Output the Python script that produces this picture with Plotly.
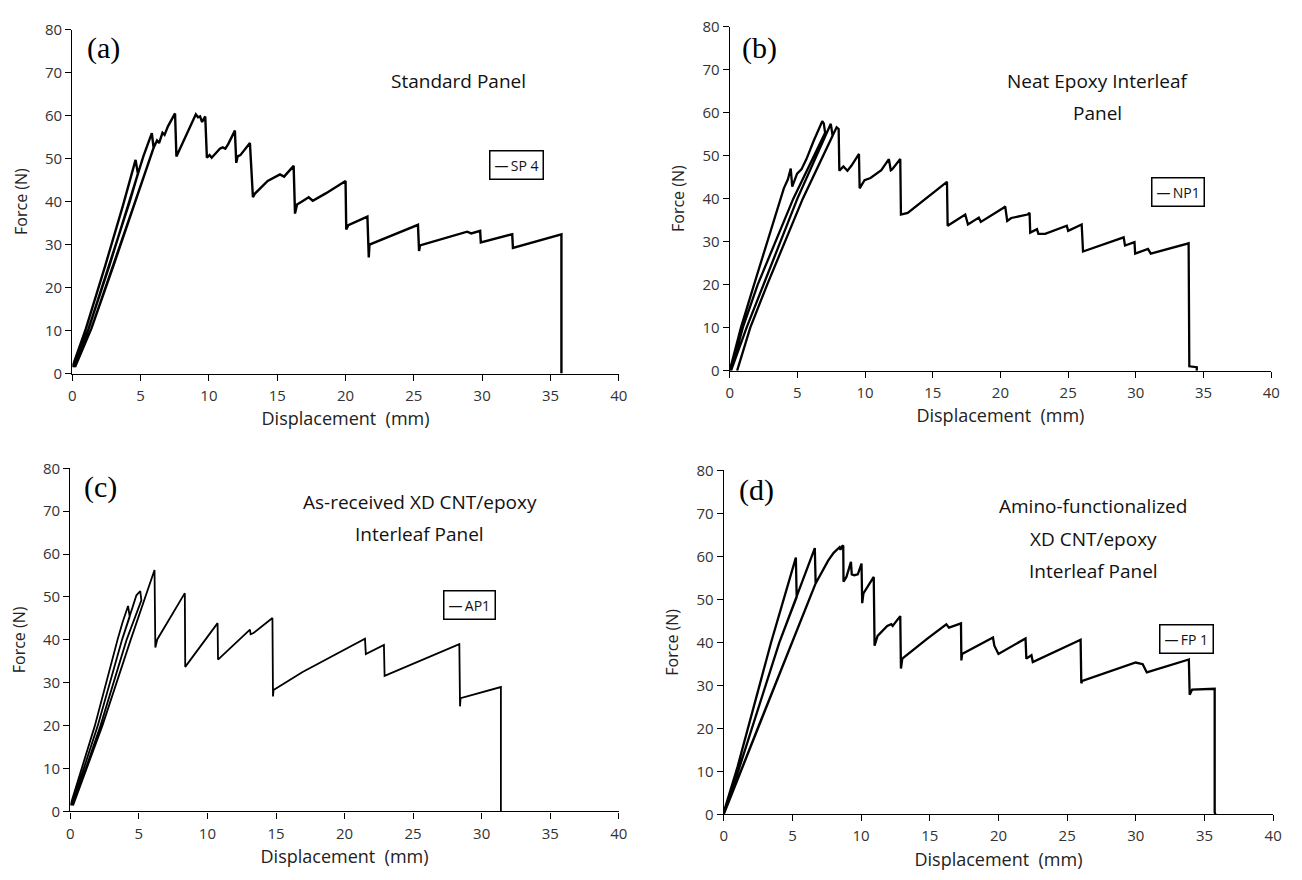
import plotly.graph_objects as go

# ---------------- data ----------------
# (a) Standard Panel, specimen SP 4
sp4_disp = [0, 1.0, 2.4, 3.7, 4.63, 4.8, 4.2, 2.7, 1.2, 0.1, 1.2, 2.7, 4.2, 5.2, 5.82, 5.95,
            4.6, 3.0, 1.4, 0.2, 1.4, 3.0, 4.6, 5.95, 6.2, 6.35, 6.6, 6.75, 7.0, 7.52, 7.62,
            8.3, 9.04, 9.2, 9.35, 9.5, 9.73, 9.85, 10.05, 10.2, 10.8, 11.0, 11.2, 11.4, 11.9,
            12.0, 12.1, 12.3, 13.0, 13.22, 13.35, 14.3, 15.2, 15.5, 16.2, 16.3, 16.45, 16.9,
            17.3, 17.6, 18.55, 20.0, 20.05, 20.2, 21.6, 21.7, 21.75, 25.3, 25.38, 25.45, 28.9,
            29.2, 29.85, 29.9, 30.95, 32.2, 32.25, 35.8, 35.8]
sp4_force = [1.5, 10.5, 25, 39, 49.7, 46.5, 40, 25, 10.5, 1.5, 10.5, 25, 40, 50.5, 55.9, 52.5,
             40, 25, 10.5, 1.5, 10.5, 25, 40, 52.5, 54.2, 53.6, 56, 55.5, 57.5, 60.5, 50.5,
             55, 60.3, 59.6, 59.8, 58.5, 59.8, 50.2, 50.8, 50.2, 52.3, 52.6, 52.3, 53.3, 56.5,
             49, 50.5, 50.8, 53.6, 41, 41.8, 44.8, 46.3, 45.8, 48.3, 37.2, 39.3, 40.2,
             41.0, 40.2, 41.9, 44.8, 33.5, 34.5, 36.5, 27, 30, 34.6, 28.5, 29.8, 33.0,
             32.6, 33.2, 30.5, 31.4, 32.4, 29.2, 32.4, 0]

# (b) Neat Epoxy Interleaf Panel, specimen NP1
np1_disp = [0, 0.83, 1.8, 2.9, 4.0, 4.3, 4.51, 4.62, 4.98, 5.3, 5.67, 6.2, 6.5, 6.84, 6.95, 7.05,
            4.7, 2.07, 0.97, 0.1, 1.25, 2.5, 5.0, 7.47, 7.6, 5.4, 2.77, 1.52, 0.55, 1.52, 2.77,
            5.4, 7.6, 7.9, 8.05, 8.1, 8.4, 8.7, 9.0, 9.55, 9.6, 9.96, 10.4, 10.66, 11.2, 11.76,
            11.9, 12.0, 12.6, 12.65, 13.15, 16.05, 16.1, 17.4, 17.6, 18.4, 18.55, 20.2, 20.35,
            20.5, 20.8, 22.0, 22.15, 22.2, 22.7, 22.8, 23.3, 24.9, 25.0, 26.0, 26.1, 29.1, 29.2,
            29.9, 29.95, 30.9, 31.1, 33.9, 33.95, 34.5, 34.5]
np1_force = [0, 10, 20, 31, 42.4, 44.5, 47.0, 42.8, 45.8, 46.8, 49.2, 53.4, 55.7, 58.0, 57.5, 55.3,
             40, 20, 10, 0, 10, 20, 40, 57.4, 54.6, 40, 20, 10, 0, 10, 20,
             40, 54.6, 56.6, 56.2, 46.5, 47.5, 46.5, 47.7, 50.4, 42.4, 44.3, 44.8, 45.4, 46.6, 49.2,
             46.6, 46.8, 49.2, 36.3, 36.7, 43.9, 33.7, 36.3, 34.0, 35.6, 34.6, 37.8, 38.2,
             34.8, 35.5, 36.3, 36.7, 32.1, 32.9, 31.8, 31.8, 33.7, 32.5, 34.0, 27.7, 31.0, 29.1,
             29.9, 27.2, 28.3, 27.2, 29.6, 1.0, 0.8, 0]

# (c) As-received XD CNT/epoxy Interleaf Panel, specimen AP1
ap1_disp = [0, 1.79, 3.44, 3.8, 4.21, 4.33, 3.77, 2.0, 0.1, 2.0, 3.77, 4.33, 4.82, 5.1, 5.18,
            4.1, 2.2, 0.2, 2.34, 4.4, 5.3, 6.14, 6.2, 6.34, 8.35, 8.38, 10.74, 10.77, 13.1,
            13.15, 13.36, 14.74, 14.78, 14.82, 16.94, 21.49, 21.55, 22.87, 22.92, 28.37, 28.42,
            28.46, 31.4, 31.4]
ap1_force = [1.4, 20, 40, 44, 47.9, 45.4, 40, 20, 1.4, 20, 40, 45.4, 50.4, 51.4, 49.2,
             40, 20, 1.4, 20, 40, 48.5, 56.3, 38.2, 40.1, 50.9, 33.7, 43.9, 35.4, 42.4,
             41.3, 41.6, 45.1, 26.8, 28.3, 32.5, 40.3, 36.7, 38.8, 31.6, 39.0, 24.5,
             26.4, 29.0, 0]

# (d) Amino-functionalized XD CNT/epoxy Interleaf Panel, specimen FP 1
fp1_disp = [0, 1.0, 3.45, 5.25, 5.31, 4.05, 1.1, 0, 1.1, 4.05, 6.63, 6.69, 5.0, 2.6, 1.3, 0,
            1.3, 2.6, 5.0, 6.69, 7.6, 8.0, 8.43, 8.5, 8.6, 8.7, 8.72, 8.93, 9.26, 9.32, 9.5,
            9.76, 10.03, 10.08, 10.17, 10.92, 10.98, 11.2, 11.9, 12.2, 12.3, 12.85, 12.9, 13.0,
            14.8, 16.2, 16.4, 17.27, 17.3, 17.35, 19.6, 19.7, 20.0, 21.97, 22.03, 22.4, 22.5,
            25.98, 26.03, 26.1, 29.99, 30.5, 30.8, 33.86, 33.92, 34.1, 35.74, 35.74, 35.8]
fp1_force = [0.5, 11, 40, 59.7, 50.5, 40, 10.5, 0.3, 10.5, 40, 61.9, 53.7, 40, 21, 10.5, 0,
             10.5, 21, 40, 53.7, 59, 60.8, 62.1, 61.5, 62.3, 62.5, 54.1, 55.2, 58.7, 55.8, 55.6,
             55.8, 58.3, 49.1, 51.4, 55.2, 39.2, 41.5, 43.8, 44.2, 43.8, 46.1, 33.9, 36.2,
             40.8, 44.2, 43.4, 44.4, 35.8, 37.3, 41.1, 39.2, 37.3, 40.9, 36.2, 37.0, 35.4,
             40.6, 30.5, 31.0, 35.3, 34.9, 33.0, 36.0, 27.8, 29.0, 29.2, 0.4, 0]

panel_letters = ["(a)", "(b)", "(c)", "(d)"]
panel_title_lines = [["Standard Panel"],
                     ["Neat Epoxy Interleaf", "Panel"],
                     ["As-received XD CNT/epoxy", "Interleaf Panel"],
                     ["Amino-functionalized", "XD CNT/epoxy", "Interleaf Panel"]]
specimen_names = ["SP 4", "NP1", "AP1", "FP 1"]

x_title = "Displacement\u00a0 (mm)"
y_title = "Force (N)"

# ---------------- layout ----------------
W, H = 1302, 880
# pixel boxes of each plot area: (x0, x1, ytop, ybottom)
boxes = [(69, 621, 19, 371), (733, 1280, 16, 368), (67, 621, 468, 819), (727, 1282, 470, 822)]
# positions (data units) of letters, titles (first line), legend boxes
letter_pos = [(2.25, 75.7), (2.2, 75.0), (2.2, 75.6), (2.4, 75.5)]
title_pos = [(28.3, 68.0), (27.2, 67.3), (25.5, 72.2), (26.9, 71.6)]
title_step = 7.5
legend_pos = [(32.5, 48.6), (33.1, 41.6), (29.1, 48.1), (33.7, 40.7)]
line_widths = [2.4, 2.3, 1.8, 2.3]

series = [(sp4_disp, sp4_force), (np1_disp, np1_force), (ap1_disp, ap1_force), (fp1_disp, fp1_force)]

fig = go.Figure()
annotations = []
layout_axes = {}
tickfont = dict(family="Open Sans", size=15, color="#333")
for i, ((xs, ys), box) in enumerate(zip(series, boxes)):
    n = "" if i == 0 else str(i + 1)
    fig.add_trace(go.Scatter(x=xs, y=ys, mode="lines", name=specimen_names[i],
                             line=dict(color="black", width=line_widths[i]),
                             xaxis="x" + n, yaxis="y" + n, showlegend=False))
    x0, x1, yt, yb = box
    common = dict(showline=True, linecolor="black", linewidth=1.3, ticks="outside",
                  ticklen=6, tickwidth=1.3, tickcolor="black", showgrid=False,
                  zeroline=False, tickfont=tickfont)
    layout_axes["xaxis" + n] = dict(domain=[x0 / W, x1 / W], anchor="y" + n, range=[0, 40],
                                    dtick=5, ticklabelstandoff=2,
                                    title=dict(text=x_title, standoff=8,
                                               font=dict(family="Open Sans", size=18, color="#222")),
                                    **common)
    layout_axes["yaxis" + n] = dict(domain=[1 - yb / H, 1 - yt / H], anchor="x" + n, range=[0, 80],
                                    dtick=10,
                                    title=dict(text=y_title, standoff=13,
                                               font=dict(family="Open Sans", size=16, color="#222")),
                                    **common)
    xr, yr = "x" + n, "y" + n
    annotations.append(dict(x=letter_pos[i][0], y=letter_pos[i][1], xref=xr, yref=yr,
                            text=panel_letters[i], showarrow=False, xanchor="center", yanchor="middle",
                            font=dict(family="Liberation Serif", size=30, color="black")))
    for k, line in enumerate(panel_title_lines[i]):
        annotations.append(dict(x=title_pos[i][0], y=title_pos[i][1] - k * title_step,
                                xref=xr, yref=yr, text=line, showarrow=False,
                                xanchor="center", yanchor="middle",
                                font=dict(family="Open Sans", size=19, color="#111")))
    annotations.append(dict(x=legend_pos[i][0], y=legend_pos[i][1], xref=xr, yref=yr,
                            text="\u2014\u2009" + specimen_names[i], showarrow=False, xanchor="center",
                            yanchor="middle", bordercolor="black", borderwidth=1.5, borderpad=4,
                            bgcolor="white", font=dict(family="Open Sans", size=14, color="#111")))

fig.update_layout(width=W, height=H, margin=dict(l=0, r=0, t=0, b=0),
                  paper_bgcolor="white", plot_bgcolor="white",
                  annotations=annotations, **layout_axes)

fig.write_html("out.html")
